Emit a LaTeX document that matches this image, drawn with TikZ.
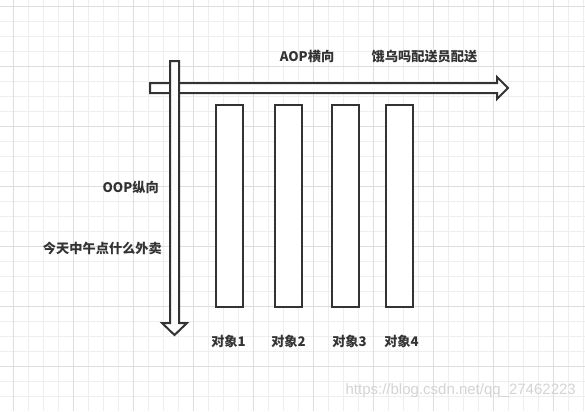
\documentclass[tikz,border=0pt]{standalone}
\usepackage{fontspec}
\newfontfamily\cjk{Noto Sans CJK SC}
\newfontfamily\wmfont{Liberation Sans}
\definecolor{ink}{HTML}{333333}
\definecolor{gminor}{HTML}{EEEEEE}
\definecolor{gmajor}{HTML}{DEDEDE}
\definecolor{wm}{HTML}{D4D4D4}
\begin{document}
\begin{tikzpicture}[x=1bp,y=-1bp,
  lbl/.style={font=\cjk\bfseries\fontsize{13.2bp}{15bp}\selectfont, text=ink, inner sep=0pt},
  objbox/.style={draw=ink, line width=2bp, fill=white, minimum width=27bp, minimum height=202bp, inner sep=0pt},
  bigarrow/.style={draw=ink, line width=2bp, fill=white, line join=miter},
  minorline/.style={draw=gminor, line width=1bp},
  majorline/.style={draw=gmajor, line width=1bp}]
\useasboundingbox (0,0) rectangle (585,411);
\fill[white] (0,0) rectangle (585,411);
% grid
\foreach \x in {13,28,...,583} {\draw[minorline] (\x,0) -- (\x,411);}
\foreach \y in {6.7,21.7,...,411} {\draw[minorline] (0,\y) -- (585,\y);}
\foreach \x in {13,73,...,583} {\draw[majorline] (\x,0) -- (\x,411);}
\foreach \y in {6.7,66.7,...,411} {\draw[majorline] (0,\y) -- (585,\y);}
% watermark
\node[anchor=east, inner sep=0pt, text=wm, font=\wmfont\fontsize{15bp}{17bp}\selectfont] (wmark) at (576,391) {https://blog.csdn.net/qq\_27462223};
% horizontal arrow (AOP)
\draw[bigarrow] (150,83) -- (497,83) -- (497,77) -- (508,88) -- (497,99) -- (497,93) -- (150,93) -- cycle;
% vertical arrow (OOP)
\draw[bigarrow] (170,61) -- (179,61) -- (179,323) -- (187,323) -- (174.5,335) -- (162,323) -- (170,323) -- cycle;
% object boxes
\node[objbox] (o1) at (229.5,206) {};
\node[objbox] (o2) at (288.5,206) {};
\node[objbox] (o3) at (345.5,206) {};
\node[objbox] (o4) at (399.5,206) {};
% labels
\node[lbl] (l1) at (228.5,341) {对象1};
\node[lbl] (l2) at (288.5,341) {对象2};
\node[lbl] (l3) at (349.5,341) {对象3};
\node[lbl] (l4) at (401.5,341) {对象4};
\node[lbl] (aop) at (307,57) {AOP横向};
\node[lbl] (ele) at (424.5,57) {饿乌吗配送员配送};
\node[lbl, anchor=east] (oop) at (159,187) {OOP纵向};
\node[lbl, anchor=east] (lunch) at (162,248) {今天中午点什么外卖};
\end{tikzpicture}
\end{document}
